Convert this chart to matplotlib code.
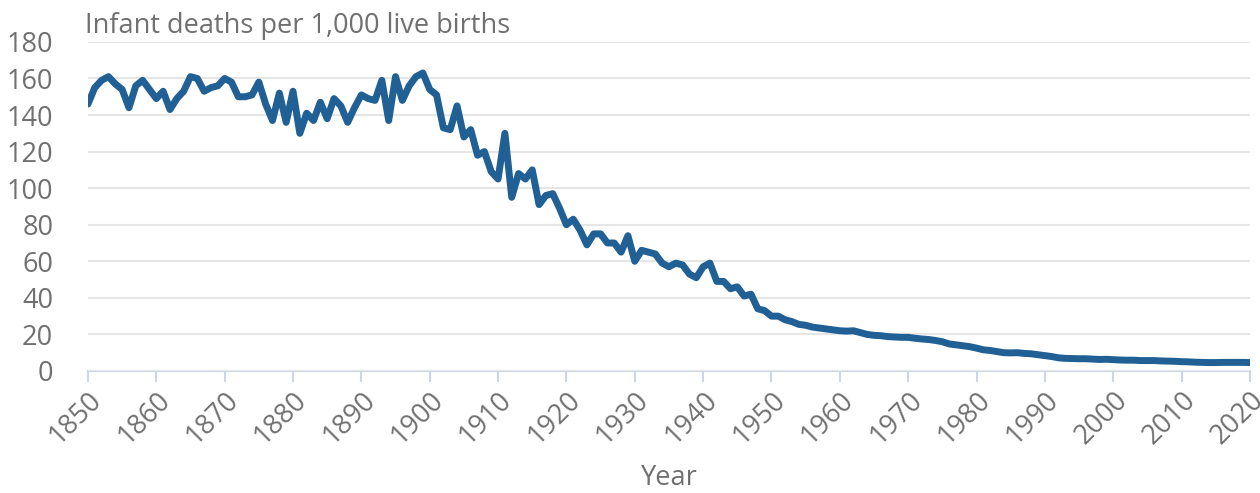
import matplotlib.pyplot as plt

# infant mortality, England and Wales
years = list(range(1850, 2021))
rate = [
    146, 155, 159, 161, 157, 154, 144, 156, 159, 154,   # 1850s
    149, 153, 143, 149, 153, 161, 160, 153, 155, 156,   # 1860s
    160, 158, 150, 150, 151, 158, 146, 137, 152, 136,   # 1870s
    153, 130, 141, 137, 147, 138, 149, 145, 136, 144,   # 1880s
    151, 149, 148, 159, 137, 161, 148, 156, 161, 163,   # 1890s
    154, 151, 133, 132, 145, 128, 132, 118, 120, 109,   # 1900s
    105, 130, 95, 108, 105, 110, 91, 96, 97, 89,        # 1910s
    80, 83, 77, 69, 75, 75, 70, 70, 65, 74,             # 1920s
    60, 66, 65, 64, 59, 57, 59, 58, 53, 51,             # 1930s
    57, 59, 49, 49, 45, 46, 41, 42, 34, 33,             # 1940s
    30, 30, 28, 27, 25.5, 25, 24, 23.5, 23, 22.5,       # 1950s
    22, 21.8, 22, 21, 20, 19.5, 19.3, 18.8, 18.6, 18.4, # 1960s
    18.4, 17.9, 17.5, 17.2, 16.7, 16, 14.8, 14.3, 13.8, 13.3,  # 1970s
    12.5, 11.6, 11.2, 10.6, 10.0, 9.9, 10.0, 9.6, 9.4, 8.9,    # 1980s
    8.4, 7.9, 7.2, 6.9, 6.8, 6.7, 6.7, 6.5, 6.3, 6.4,          # 1990s
    6.2, 6.0, 5.9, 5.9, 5.7, 5.7, 5.7, 5.5, 5.4, 5.3,          # 2000s
    5.1, 5.0, 4.8, 4.7, 4.6, 4.6, 4.7, 4.7, 4.7, 4.7, 4.6,     # 2010s + 2020
]

x_ticks = list(range(1850, 2021, 10))
y_ticks = list(range(0, 181, 20))

text_col = '#707070'
fs = 19.5
plt.rcParams['font.family'] = ['Open Sans', 'DejaVu Sans']

fig = plt.figure(figsize=(12.6, 4.93), dpi=100)
ax = fig.add_axes([0.0698, 0.2475, 0.9222, 0.6675])

ax.plot(years, rate, color='#206095', linewidth=5, solid_joinstyle='round',
        solid_capstyle='round', zorder=3)

ax.set_xlim(1850, 2020)
ax.set_ylim(0, 180)
ax.set_xticks(x_ticks)
ax.set_yticks(y_ticks)
ax.set_xticklabels([str(t) for t in x_ticks], rotation=45, ha='right',
                   rotation_mode='anchor')

ax.grid(axis='y', color='#e6e6e6', linewidth=1.5, zorder=0)
for s in ['top', 'right', 'left']:
    ax.spines[s].set_visible(False)
ax.spines['bottom'].set_color('#ccd6eb')
ax.spines['bottom'].set_linewidth(1.5)
ax.spines['bottom'].set_zorder(1)

ax.tick_params(axis='x', colors='#ccd6eb', length=8, width=1.5,
               labelcolor=text_col, labelsize=fs, pad=3)
ax.tick_params(axis='y', length=0, labelcolor=text_col, labelsize=fs, pad=25)

ax.set_xlabel('Year', color=text_col, fontsize=fs, labelpad=10)
fig.text(0.0675, 0.948, 'Infant deaths per 1,000 live births', color=text_col,
         fontsize=fs, va='center', ha='left')

fig.savefig('out.png', dpi=100)
